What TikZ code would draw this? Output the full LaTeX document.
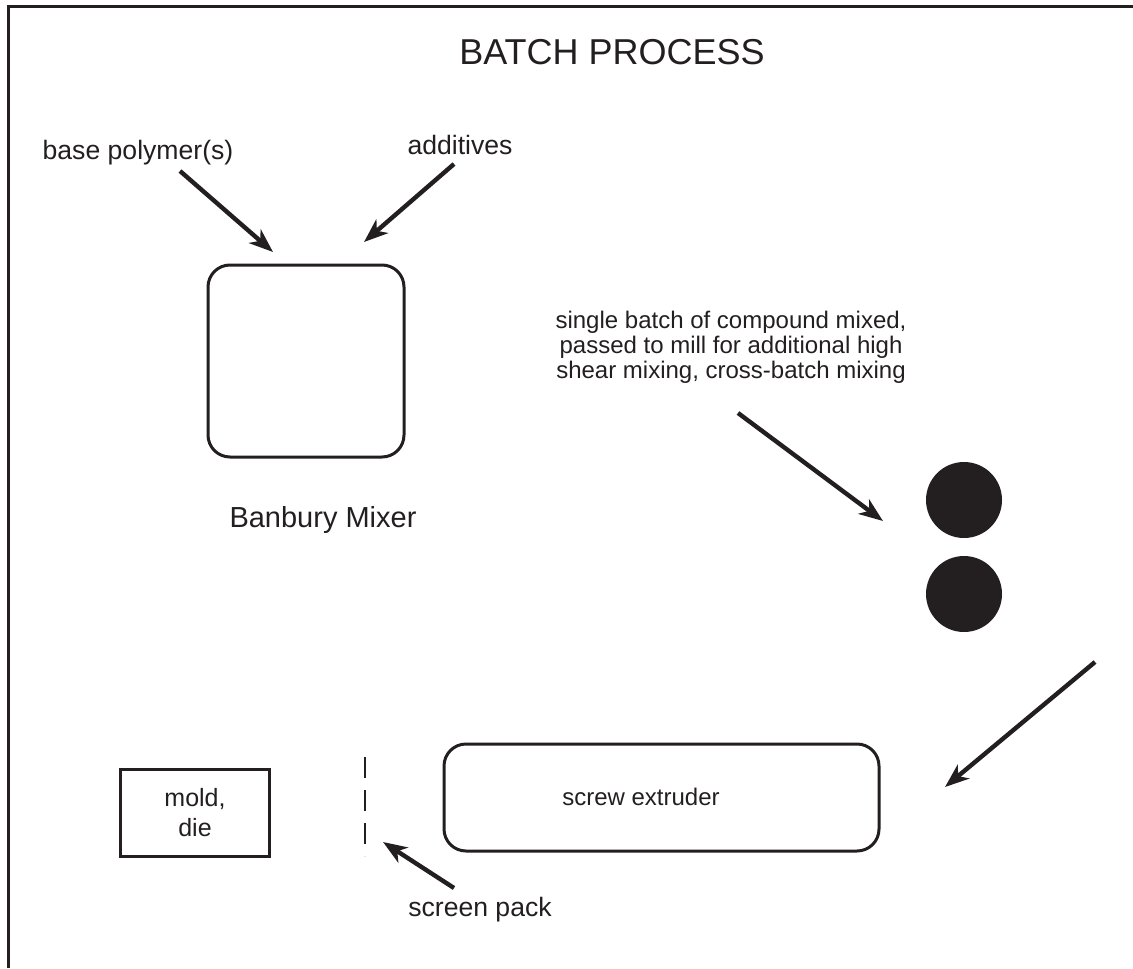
\documentclass[tikz,border=0pt]{standalone}
\usepackage{fontspec}
\setmainfont{Liberation Sans}
\usetikzlibrary{arrows.meta}
\definecolor{ink}{HTML}{231F20}
\begin{document}
\begin{tikzpicture}[x=0.5pt,y=-0.5pt,>={Stealth[length=12pt,width=9pt,inset=3.5pt]},
	feed/.style={->,draw=ink,line width=2.2pt},
	unit/.style={draw=ink,line width=1.5pt,rounded corners=11pt,inner sep=0pt},
	txt/.style={text=ink,align=center,inner sep=0pt,font=\fontsize{12}{14}\selectfont},
	big/.style={txt,font=\fontsize{13.3}{15}\selectfont}]
		\useasboundingbox (0,0) rectangle (1133,968);
		\draw[ink,line width=1.5pt] (8,968) -- (8,7) -- (1133,7);
		\node[txt,font=\fontsize{18}{20}\selectfont] (title) at (612,52) {BATCH PROCESS};
		% Banbury mixer and its feeds
		\node[unit,minimum width=98pt,minimum height=96pt] (banbury) at (306,361) {};
		\node[txt,font=\fontsize{14.5}{16}\selectfont] (bname) at (323,520) {Banbury Mixer};
		\node[big] (polymer) at (138,153) {base polymer(s)};
		\node[big] (additives) at (460,145) {additives};
		\coordinate (polymer-s) at (180,171); \coordinate (polymer-t) at (273,252);
		\coordinate (additives-s) at (454,164); \coordinate (additives-t) at (364,242);
		\draw[feed] (polymer-s) -- (polymer-t);
		\draw[feed] (additives-s) -- (additives-t);
		% two-roll mill
		\node[txt,font=\fontsize{12}{12.5}\selectfont] (note) at (731,347) {single batch of compound mixed,\\passed to mill for additional high\\shear mixing, cross-batch mixing};
		\foreach \n/\y in {1/500,2/594}{\node[circle,fill=ink,minimum size=38pt,inner sep=0pt] (roll\n) at (964,\y) {};}
		\coordinate (note-s) at (738,413); \coordinate (note-t) at (883,521);
		\draw[feed] (note-s) -- (note-t);
		\coordinate (mill-s) at (1095,662); \coordinate (mill-t) at (945,787);
		\draw[feed] (mill-s) -- (mill-t);
		% extruder line
		\node[unit,minimum width=217.5pt,minimum height=53.5pt] (extruder) at (661.5,797.5) {};
		\node[txt] (ename) at (641,797) {screw extruder};
		\node[draw=ink,line width=1.5pt,minimum width=74.5pt,minimum height=43.5pt,inner sep=0pt] (mold) at (194.5,812.5) {};
		\node[txt,font=\fontsize{12.5}{15}\selectfont] (mname) at (195,813) {mold,\\die};
		\coordinate (screen-top) at (365,757); \coordinate (screen-bot) at (365,856);
		\draw[ink,line width=1.1pt,dash pattern=on 10.5pt off 6pt] (screen-top) -- (screen-bot);
		\node[big] (screen) at (480,910) {screen pack};
		\coordinate (screen-s) at (454,888); \coordinate (screen-t) at (383,842);
		\draw[feed] (screen-s) -- (screen-t);
	\end{tikzpicture}
\end{document}
